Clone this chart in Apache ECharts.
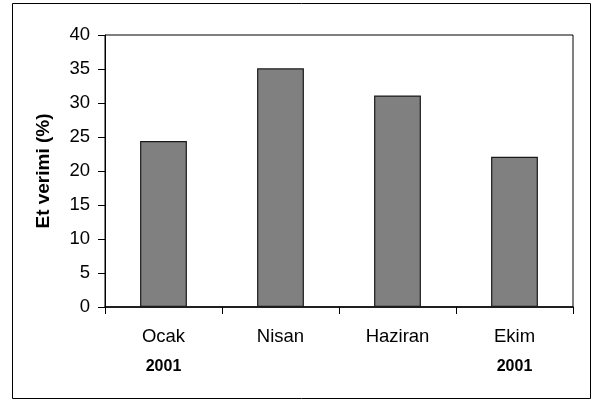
<!DOCTYPE html>
<html>
<head>
<meta charset="utf-8">
<script src="https://cdn.jsdelivr.net/npm/echarts@6/dist/echarts.min.js"></script>
<style>
  html, body { margin: 0; padding: 0; background: #fff; }
  #chart { width: 603px; height: 401px; }
</style>
</head>
<body>
<div id="chart"></div>
<script>
// Months sampled and the year note shown beneath some of them
const months = ['Ocak', 'Nisan', 'Haziran', 'Ekim'];
const years = ['2001', '', '', '2001'];
// Meat yield per month (%)
const yieldValues = [24.4, 35.1, 31.1, 22.1];
// Value axis ticks
const yTicks = [0, 5, 10, 15, 20, 25, 30, 35, 40];

const chart = echarts.init(document.getElementById('chart'), null, { renderer: 'canvas' });

const font = 'Liberation Sans, Arial, sans-serif';

chart.setOption({
  animation: false,
  backgroundColor: '#fff',
  graphic: [{
    type: 'rect',
    shape: { x: 12.5, y: 3.5, width: 578, height: 395 },
    style: { fill: 'none', stroke: '#000', lineWidth: 1 },
    silent: true
  }],
  grid: {
    left: 105, right: 30, top: 35, bottom: 94,
    show: true, borderColor: '#000', borderWidth: 1, backgroundColor: 'transparent'
  },
  xAxis: {
    type: 'category',
    data: months,
    boundaryGap: true,
    axisLine: { show: true, lineStyle: { color: '#000', width: 1.5 } },
    axisTick: { show: true, length: 7, inside: false, lineStyle: { color: '#000' } },
    axisLabel: {
      margin: 15,
      fontFamily: font,
      formatter: function (v, i) {
        const y = years[i];
        return y ? '{m|' + v + '}\n{y|' + y + '}' : '{m|' + v + '}';
      },
      rich: {
        m: { fontSize: 18.5, lineHeight: 30, color: '#000', fontFamily: font },
        y: { fontSize: 16, lineHeight: 30, fontWeight: 'bold', color: '#000', fontFamily: font }
      }
    },
    splitLine: { show: false }
  },
  yAxis: {
    type: 'value',
    min: yTicks[0],
    max: yTicks[yTicks.length - 1],
    interval: yTicks[1] - yTicks[0],
    name: 'Et verimi (%)',
    nameLocation: 'middle',
    nameGap: 52,
    nameRotate: 90,
    nameTextStyle: { fontFamily: font, fontSize: 19, fontWeight: 'bold', color: '#000' },
    axisLine: { show: true, lineStyle: { color: '#000', width: 1 } },
    axisTick: { show: true, length: 7, inside: false, lineStyle: { color: '#000' } },
    axisLabel: { margin: 15, fontFamily: font, fontSize: 18.5, color: '#000' },
    splitLine: { show: false }
  },
  series: [{
    type: 'bar',
    data: yieldValues,
    barWidth: '40%',
    itemStyle: { color: '#808080', borderColor: '#1a1a1a', borderWidth: 1.2 }
  }]
});
</script>
</body>
</html>
